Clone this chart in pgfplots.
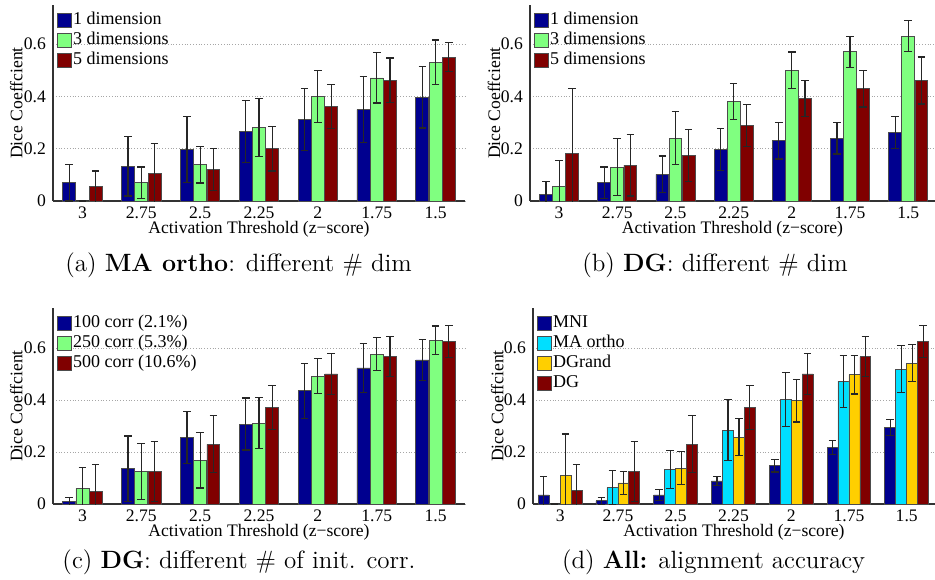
\documentclass[border=0pt]{standalone}
\usepackage{fontspec}
\usepackage{pgfplots}
\pgfplotsset{compat=1.18}
\newfontfamily\mfont{Liberation Serif}
\definecolor{cblue}{rgb}{0,0,0.5625}
\definecolor{cgreen}{rgb}{0.5,1,0.5}
\definecolor{cred}{rgb}{0.5,0,0}
\definecolor{ccyan}{rgb}{0,0.875,1}
\definecolor{cyellow}{rgb}{1,0.8125,0}

% bars are placed at their own x (group centre +- offset), so the error bars sit on them
\pgfplotsset{
  dice/.style={
    scale only axis, anchor=south west,
    height=98pt, ymin=0,
    axis x line*=bottom, axis y line*=left,
    axis line style={-, black!80, line width=0.7pt},
    xtick={0,...,6}, xticklabels={3,2.75,2.5,2.25,2,1.75,1.5},
    ytick={0,0.2,0.4,0.6}, yticklabels={0,0.2,0.4,0.6},
    major tick length=0pt,
    ymajorgrids, grid style={densely dotted, black!35, line width=0.4pt},
    tick label style={font=\mfont\fontsize{8.8}{10}\selectfont},
    xticklabel style={yshift=0.5pt},
    label style={font=\mfont\fontsize{8.8}{10}\selectfont},
    xlabel={Activation Threshold (z−score)},
    ylabel={Dice Coeffcient},
    xlabel style={at={(axis description cs:0.5,0)}, anchor=center, yshift=-14pt},
    ylabel style={at={(axis description cs:-0.089,0.5)}, anchor=center},
    legend style={at={(axis description cs:0.009,0.975)}, anchor=north west,
      draw=none, fill=none, inner sep=0pt, row sep=0pt,
      font=\mfont\fontsize{9}{10}\selectfont,
      nodes={inner sep=0.6pt, text height=6.6pt, text depth=2.2pt}},
    legend cell align=left,
    legend image code/.code={\draw[#1, draw=black!70, line width=0.4pt] (0pt,-3.5pt) rectangle (7pt,3.5pt);},
    every axis plot/.append style={ybar, bar shift=0pt, draw=black!70, line width=0.4pt,
      /pgfplots/error bars/y dir=both, /pgfplots/error bars/y explicit,
      /pgfplots/error bars/error bar style={black!85, line width=0.6pt},
      /pgfplots/error bars/error mark options={rotate=90, mark size=1.9pt, black!85, line width=0.6pt}},
  },
  three/.style={bar width=0.22},
  four/.style={bar width=0.19},
}

\begin{document}
\begin{tikzpicture}
\path[use as bounding box] (0,0) rectangle (467.5pt,289.5pt);

% (a)
\begin{axis}[dice, three, at={(26.5pt,189pt)}, width=206pt, xmin=-0.5, xmax=6.5, ymax=0.75]
\addplot[fill=cblue] coordinates {
 (-0.225,0.070) +- (0,0.070) (0.775,0.133) +- (0,0.114) (1.775,0.197) +- (0,0.125) (2.775,0.266) +- (0,0.120)
 (3.775,0.312) +- (0,0.120) (4.775,0.350) +- (0,0.125) (5.775,0.397) +- (0,0.118)};
\addplot[fill=cgreen] coordinates {
 (0,0.000) +- (0,0.000) (1,0.070) +- (0,0.060) (2,0.139) +- (0,0.070) (3,0.281) +- (0,0.110)
 (4,0.400) +- (0,0.100) (5,0.471) +- (0,0.096) (6,0.531) +- (0,0.085)};
\addplot[fill=cred] coordinates {
 (0.225,0.055) +- (0,0.060) (1.225,0.106) +- (0,0.114) (2.225,0.120) +- (0,0.080) (3.225,0.200) +- (0,0.085)
 (4.225,0.362) +- (0,0.084) (5.225,0.462) +- (0,0.085) (6.225,0.550) +- (0,0.055)};
\legend{1 dimension,3 dimensions,5 dimensions}
\end{axis}

% (b)
\begin{axis}[dice, three, at={(265pt,189pt)}, width=202.5pt, xmin=-0.5, xmax=6.46, ymax=0.75]
\addplot[fill=cblue] coordinates {
 (-0.225,0.026) +- (0,0.050) (0.775,0.070) +- (0,0.060) (1.775,0.102) +- (0,0.070) (2.775,0.198) +- (0,0.080)
 (3.775,0.231) +- (0,0.070) (4.775,0.240) +- (0,0.060) (5.775,0.262) +- (0,0.060)};
\addplot[fill=cgreen] coordinates {
 (0,0.055) +- (0,0.100) (1,0.130) +- (0,0.110) (2,0.241) +- (0,0.100) (3,0.381) +- (0,0.070)
 (4,0.500) +- (0,0.070) (5,0.571) +- (0,0.060) (6,0.631) +- (0,0.060)};
\addplot[fill=cred] coordinates {
 (0.225,0.181) +- (0,0.250) (1.225,0.137) +- (0,0.118) (2.225,0.175) +- (0,0.100) (3.225,0.290) +- (0,0.080)
 (4.225,0.392) +- (0,0.070) (5.225,0.430) +- (0,0.070) (6.225,0.461) +- (0,0.090)};
\legend{1 dimension,3 dimensions,5 dimensions}
\end{axis}

% (c)
\begin{axis}[dice, three, at={(26.5pt,37.5pt)}, width=206pt, xmin=-0.5, xmax=6.5, ymax=0.755]
\addplot[fill=cblue] coordinates {
 (-0.225,0.009) +- (0,0.016) (0.775,0.136) +- (0,0.126) (1.775,0.255) +- (0,0.100) (2.775,0.308) +- (0,0.100)
 (3.775,0.436) +- (0,0.106) (4.775,0.524) +- (0,0.094) (5.775,0.555) +- (0,0.078)};
\addplot[fill=cgreen] coordinates {
 (0,0.060) +- (0,0.082) (1,0.125) +- (0,0.107) (2,0.169) +- (0,0.107) (3,0.312) +- (0,0.097)
 (4,0.493) +- (0,0.068) (5,0.577) +- (0,0.063) (6,0.631) +- (0,0.055)};
\addplot[fill=cred] coordinates {
 (0.225,0.050) +- (0,0.103) (1.225,0.125) +- (0,0.115) (2.225,0.230) +- (0,0.110) (3.225,0.372) +- (0,0.085)
 (4.225,0.501) +- (0,0.078) (5.225,0.567) +- (0,0.077) (6.225,0.626) +- (0,0.062)};
\legend{100 corr (2.1\%),250 corr (5.3\%),500 corr (10.6\%)}
\end{axis}

% (d)
\begin{axis}[dice, four, at={(266.5pt,37.5pt)}, width=201pt, xmin=-0.47, xmax=6.49, ymax=0.755]
\addplot[fill=cblue] coordinates {
 (-0.285,0.035) +- (0,0.070) (0.715,0.012) +- (0,0.014) (1.715,0.035) +- (0,0.021) (2.715,0.089) +- (0,0.018)
 (3.715,0.147) +- (0,0.024) (4.715,0.218) +- (0,0.028) (5.715,0.294) +- (0,0.030)};
\addplot[fill=ccyan] coordinates {
 (-0.095,0.000) +- (0,0.000) (0.905,0.063) +- (0,0.065) (1.905,0.133) +- (0,0.074) (2.905,0.285) +- (0,0.116)
 (3.905,0.403) +- (0,0.104) (4.905,0.473) +- (0,0.100) (5.905,0.520) +- (0,0.090)};
\addplot[fill=cyellow] coordinates {
 (0.095,0.110) +- (0,0.160) (1.095,0.081) +- (0,0.043) (2.095,0.138) +- (0,0.064) (3.095,0.258) +- (0,0.072)
 (4.095,0.398) +- (0,0.082) (5.095,0.498) +- (0,0.074) (6.095,0.543) +- (0,0.070)};
\addplot[fill=cred] coordinates {
 (0.285,0.052) +- (0,0.101) (1.285,0.125) +- (0,0.116) (2.285,0.230) +- (0,0.110) (3.285,0.373) +- (0,0.085)
 (4.285,0.501) +- (0,0.079) (5.285,0.568) +- (0,0.077) (6.285,0.626) +- (0,0.062)};
\legend{MNI,MA ortho,DGrand,DG}
\end{axis}

\begin{scope}[every node/.style={anchor=base, font=\fontsize{12.5}{15}\selectfont, inner sep=0pt}]
\node at (119.3pt,154pt) {(a) \textbf{MA ortho}: different \# dim};
\node at (357.5pt,154pt) {(b) \textbf{DG}: different \# dim};
\node at (119.5pt,5.5pt) {(c) \textbf{DG}: different \# of init. corr.};
\node at (356.8pt,5.5pt) {(d) \textbf{All:} alignment accuracy};
\end{scope}
\end{tikzpicture}
\end{document}
